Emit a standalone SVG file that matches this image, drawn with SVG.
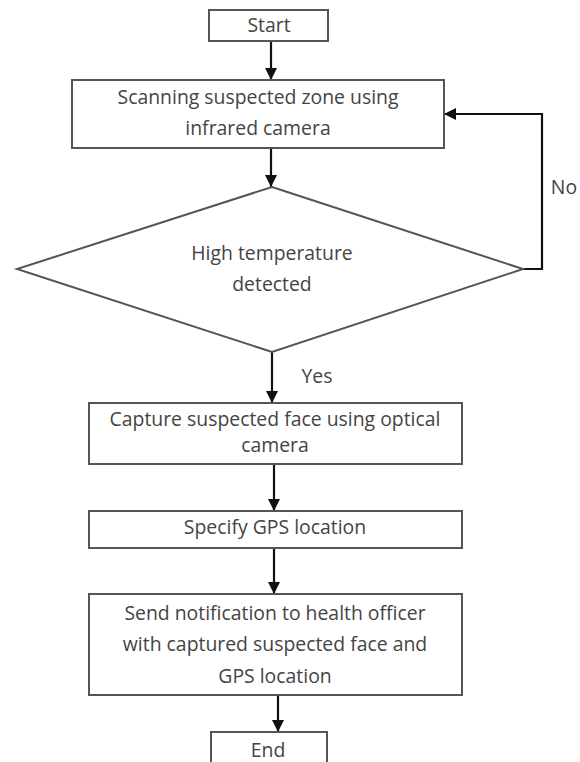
<svg xmlns="http://www.w3.org/2000/svg" width="580" height="762" viewBox="0 0 580 762">
<style>
.box{fill:#fff;stroke:#555;stroke-width:2}
.t{font-family:"Open Sans","Liberation Sans",Arial,sans-serif;font-size:19.4px;fill:#444;text-anchor:middle;dominant-baseline:central}
.c{fill:none;stroke:#111;stroke-width:2.2}
</style>
<defs>
<marker id="ah" markerUnits="userSpaceOnUse" markerWidth="12" markerHeight="12" refX="12" refY="6" orient="auto">
<path d="M0,0 L12,6 L0,12 Z" fill="#111"/>
</marker>
</defs>
<rect width="580" height="762" fill="#fff"/>
<g id="connectors">
<line class="c" x1="271" y1="41" x2="271" y2="80" marker-end="url(#ah)"/>
<line class="c" x1="271" y1="148" x2="271" y2="187" marker-end="url(#ah)"/>
<line class="c" x1="272" y1="352" x2="272" y2="403" marker-end="url(#ah)"/>
<line class="c" x1="274" y1="464" x2="274" y2="511" marker-end="url(#ah)"/>
<line class="c" x1="274" y1="548" x2="274" y2="594" marker-end="url(#ah)"/>
<line class="c" x1="278" y1="695" x2="278" y2="732" marker-end="url(#ah)"/>
<polyline class="c" points="523,269 542,269 542,114 444,114" marker-end="url(#ah)"/>
<text class="t" x="564" y="186">No</text>
<text class="t" x="317" y="375">Yes</text>
</g>
<g id="start">
<rect class="box" x="209" y="10" width="119" height="31"/>
<text class="t" x="269" y="24">Start</text>
</g>
<g id="scan">
<rect class="box" x="72" y="80" width="372" height="68"/>
<text class="t" x="258" y="96">Scanning suspected zone using</text>
<text class="t" x="258" y="127">infrared camera</text>
</g>
<g id="decision">
<polygon class="box" points="272,187 523,269 272,352 17,269"/>
<text class="t" x="272" y="252">High temperature</text>
<text class="t" x="272" y="283">detected</text>
</g>
<g id="capture">
<rect class="box" x="89" y="403" width="373" height="61"/>
<text class="t" x="275" y="418">Capture suspected face using optical</text>
<text class="t" x="275" y="444">camera</text>
</g>
<g id="gps">
<rect class="box" x="89" y="511" width="373" height="37"/>
<text class="t" x="275" y="526">Specify GPS location</text>
</g>
<g id="notify">
<rect class="box" x="89" y="594" width="373" height="101"/>
<text class="t" x="275" y="612">Send notification to health officer</text>
<text class="t" x="275" y="643">with captured suspected face and</text>
<text class="t" x="275" y="675">GPS location</text>
</g>
<g id="end">
<rect class="box" x="211" y="732" width="116" height="40"/>
<text class="t" x="268" y="749">End</text>
</g>
</svg>
